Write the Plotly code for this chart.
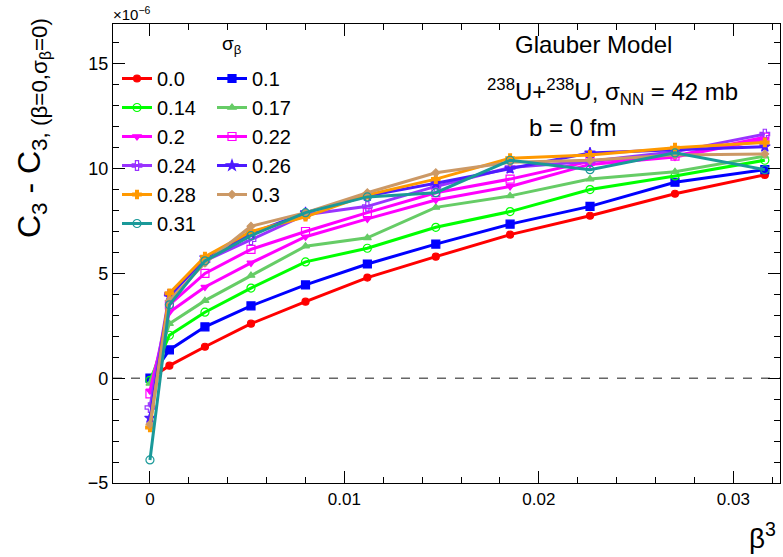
import plotly.graph_objects as go

beta3 = [0.0, 0.001, 0.002828, 0.005196, 0.008, 0.01118, 0.0147, 0.01852, 0.02263, 0.027, 0.03162]

sigma_labels = ["0.0", "0.1", "0.14", "0.17", "0.2", "0.22", "0.24", "0.26", "0.28", "0.3", "0.31"]

c3_s000 = [0.0, 0.6, 1.5, 2.6, 3.65, 4.8, 5.8, 6.85, 7.75, 8.8, 9.7]
c3_s010 = [0.0, 1.35, 2.45, 3.45, 4.45, 5.45, 6.4, 7.35, 8.2, 9.35, 9.95]
c3_s014 = [-0.1, 2.05, 3.15, 4.3, 5.55, 6.2, 7.2, 7.95, 9.0, 9.65, 10.4]
c3_s017 = [-0.25, 2.6, 3.7, 4.9, 6.3, 6.7, 8.15, 8.7, 9.5, 9.85, 10.6]
c3_s020 = [-0.6, 3.15, 4.35, 5.5, 6.75, 7.6, 8.5, 9.15, 10.2, 10.55, 11.4]
c3_s022 = [-0.75, 3.5, 5.0, 6.15, 7.0, 7.9, 8.85, 9.5, 10.35, 10.6, 11.5]
c3_s024 = [-1.4, 4.0, 5.6, 6.6, 7.8, 8.2, 9.15, 10.05, 10.35, 10.8, 11.65]
c3_s026 = [-1.9, 3.9, 5.75, 6.9, 7.9, 8.7, 9.3, 10.0, 10.75, 10.9, 11.05]
c3_s028 = [-2.35, 4.05, 5.8, 7.0, 7.7, 8.75, 9.5, 10.5, 10.65, 11.0, 11.25]
c3_s030 = [-2.2, 3.7, 5.5, 7.25, 7.9, 8.85, 9.8, 10.3, 10.4, 10.65, 10.7]
c3_s031 = [-3.9, 3.5, 5.6, 6.8, 7.9, 8.65, 8.85, 10.4, 9.95, 10.75, 9.95]

series = [c3_s000, c3_s010, c3_s014, c3_s017, c3_s020, c3_s022,
          c3_s024, c3_s026, c3_s028, c3_s030, c3_s031]

colors = ["#ff0000", "#0000ff", "#00ff00", "#66cc66", "#ff00ff", "#ff00ff",
          "#9933ff", "#4d1aff", "#ff9900", "#cc9966", "#1a9999"]
symbols = ["circle", "square", "circle-open", "triangle-up", "triangle-down",
           "square-open", "cross-open", "star", "cross", "diamond", "circle-open"]
sizes = [7, 8, 8, 7, 7, 8, 8, 8, 7, 6, 8]

# pixel -> paper helpers for layout placement
L, R, T, B = 113, 3, 24, 74
W, H = 783, 557
pw, ph = W - L - R, H - T - B
def px(x):
    return (x - L) / pw
def py(y):
    return (H - B - y) / ph

fig = go.Figure()
for i, (lab, ys) in enumerate(zip(sigma_labels, series)):
    fig.add_trace(go.Scatter(
        x=beta3, y=ys, mode="lines+markers", name=lab,
        line=dict(color=colors[i], width=3),
        marker=dict(color=colors[i], symbol=symbols[i], size=sizes[i],
                    line=dict(color=colors[i], width=1.2)),
        legend="legend" if i % 2 == 0 else "legend2",
    ))

fig.add_shape(type="line", xref="x domain", yref="y", x0=0, x1=1, y0=0, y1=0,
              line=dict(color="#666666", width=1.5, dash="dash"), layer="below")

axis_common = dict(
    showgrid=False, zeroline=False, showline=True, linecolor="black", linewidth=1.2,
    mirror="allticks", ticks="inside", tickcolor="black", ticklen=12,
    tickfont=dict(family="Liberation Sans", size=18, color="black"),
)
fig.update_xaxes(range=[-0.0019, 0.0324], tickvals=[0, 0.01, 0.02, 0.03],
                 ticktext=["0", "0.01", "0.02", "0.03"],
                 minor=dict(dtick=0.002, tick0=0, ticks="inside", ticklen=6, tickcolor="black"),
                 **axis_common)
fig.update_xaxes(tickfont=dict(size=17))
fig.update_yaxes(range=[-5, 16.9], tickvals=[-5, 0, 5, 10, 15],
                 ticktext=["−5", "0", "5", "10", "15"],
                 minor=dict(dtick=1, tick0=0, ticks="inside", ticklen=6, tickcolor="black"),
                 **axis_common)

leg_font = dict(family="Liberation Sans", size=20, color="black")
fig.update_layout(
    width=W, height=H, margin=dict(l=L, r=R, t=T, b=B),
    plot_bgcolor="white", paper_bgcolor="white",
    font=dict(family="Liberation Sans", color="black"),
    legend=dict(x=px(117), y=py(59), xanchor="left", yanchor="top",
                font=leg_font, bgcolor="rgba(0,0,0,0)", tracegroupgap=0, itemwidth=30),
    legend2=dict(x=px(212), y=py(59), xanchor="left", yanchor="top",
                 font=leg_font, bgcolor="rgba(0,0,0,0)", tracegroupgap=0, itemwidth=30),
)

annos = [
    dict(x=px(232), y=py(45), text="σ<sub>β</sub>", size=19),
    dict(x=px(593), y=py(45), text="Glauber Model", size=24),
    dict(x=px(612), y=py(92), text="<sup>238</sup>U+<sup>238</sup>U, σ<sub>NN</sub> = 42 mb", size=24),
    dict(x=px(572), y=py(127), text="b = 0 fm", size=24),
    dict(x=px(762), y=py(536), text="β<sup>3</sup>", size=28),
]
for a in annos:
    fig.add_annotation(x=a["x"], y=a["y"], xref="paper", yref="paper", text=a["text"],
                       showarrow=False, font=dict(family="Liberation Sans", size=a["size"], color="black"),
                       xanchor="center", yanchor="middle")

fig.add_annotation(x=px(111), y=py(14), xref="paper", yref="paper", text="×10<sup>−6</sup>",
                   showarrow=False, xanchor="left", yanchor="middle",
                   font=dict(family="Liberation Sans", size=15, color="black"))

fig.add_annotation(x=px(32), y=py(16), xref="paper", yref="paper",
                   text="C<sub>3</sub> - C<sub>3, (β=0,σ<sub>β</sub>=0)</sub>",
                   textangle=-90, showarrow=False, xanchor="center", yanchor="top",
                   font=dict(family="Liberation Sans", size=32, color="black"))

fig.write_html("out.html", config={"displayModeBar": False},
               post_script="document.body.style.margin='0';document.body.style.overflow='hidden';")
